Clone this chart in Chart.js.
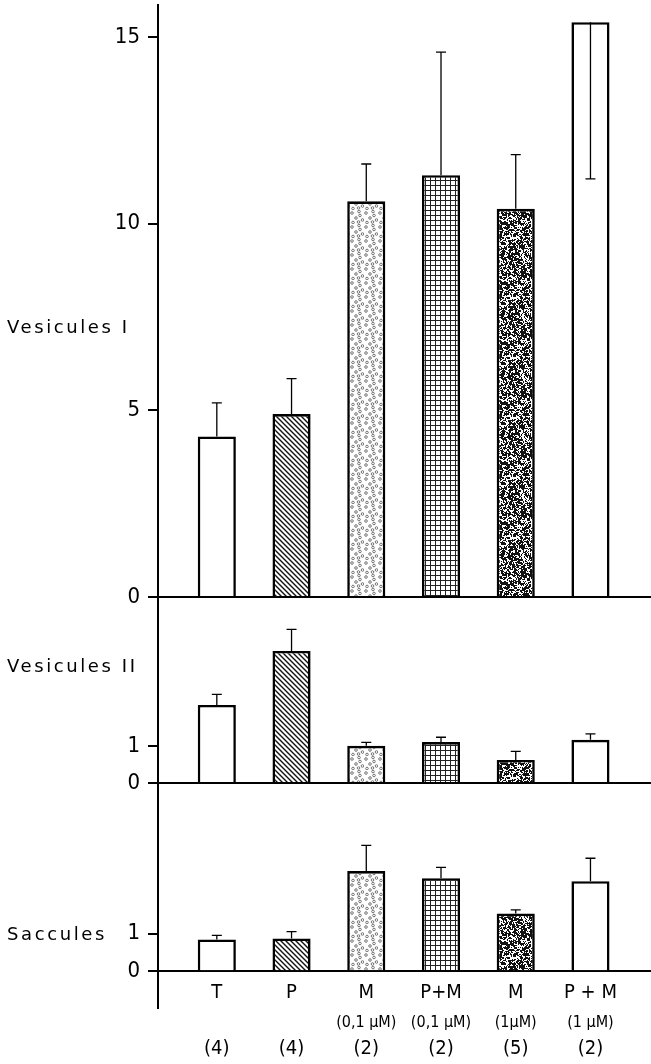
<!DOCTYPE html>
<html>
<head>
<meta charset="utf-8">
<script src="https://cdn.jsdelivr.net/npm/chart.js@4.4.1/dist/chart.umd.min.js"></script>
<style>
  html, body { margin: 0; padding: 0; background: #fff; }
  #cadre { position: relative; width: 651px; height: 1064px; }
</style>
</head>
<body>
<div id="cadre"><canvas id="golgi"></canvas></div>
<script>
// groupes traités (axe des x)
var groupes = ["T", "P", "M", "P+M", "M", "P + M"];
var concentrations = ["", "", "(0,1 µM)", "(0,1 µM)", "(1µM)", "(1 µM)"];
var effectifs = ["(4)", "(4)", "(2)", "(2)", "(5)", "(2)"];

// Vesicules I
var vesI = [4.3, 4.9, 10.6, 11.3, 10.4, 15.4];
var vesIErr = [5.2, 5.85, 11.6, 14.6, 11.85, 11.2];
// Vesicules II
var vesII = [2.1, 3.55, 1.0, 1.1, 0.62, 1.16];
var vesIIErr = [2.38, 4.13, 1.09, 1.23, 0.85, 1.32];
// Saccules
var sacc = [0.84, 0.87, 2.66, 2.47, 1.53, 2.39];
var saccErr = [0.95, 1.05, 3.34, 2.76, 1.63, 3.0];

var ticksVesI = [0, 5, 10, 15];
var ticksVesII = [0, 1];
var ticksSacc = [0, 1];

var policeChiffres = "'Liberation Sans Narrow', 'DejaVu Sans Condensed', 'Liberation Sans', sans-serif";
var policeTexte = "'DejaVu Sans', sans-serif";

var ctx = document.getElementById("golgi");

// motifs de remplissage des barres
function tuile(w, h, dessin) {
  var c = document.createElement('canvas');
  c.width = w; c.height = h;
  var g = c.getContext('2d');
  g.fillStyle = '#fff';
  g.fillRect(0, 0, w, h);
  dessin(g);
  return ctx.getContext('2d').createPattern(c, 'repeat');
}

var hachures = tuile(5, 5, function (g) {
  g.strokeStyle = '#111';
  g.lineWidth = 1.4;
  g.beginPath();
  g.moveTo(-1, -1); g.lineTo(6, 6);
  g.moveTo(-1, 4); g.lineTo(1, 6);
  g.moveTo(4, -1); g.lineTo(6, 1);
  g.stroke();
});

var cercles = tuile(14, 14, function (g) {
  g.strokeStyle = '#555';
  g.lineWidth = 0.8;
  [[2, 3], [9, 1.5], [6, 8], [12.5, 10], [3, 12.5], [10, 5.5], [8.5, 12]].forEach(function (p) {
    g.beginPath();
    g.arc(p[0], p[1], 1.3, 0, Math.PI * 2);
    g.stroke();
  });
});

var quadrillage = tuile(5, 5, function (g) {
  g.fillStyle = '#222';
  g.fillRect(0, 0, 5, 1);
  g.fillRect(0, 0, 1, 5);
});

var grain = tuile(60, 60, function (g) {
  var s = 12345;
  function alea() { s = (s * 1103515245 + 12345) % 2147483648; return s / 2147483648; }
  g.fillStyle = '#111';
  for (var y = 0; y < 60; y++) {
    for (var x = 0; x < 60; x++) {
      var r = alea();
      if (r < 0.38) g.fillRect(x, y, 1, 1);
      else if (r < 0.47) g.fillRect(x, y, 2, 2);
    }
  }
});

var fonds = ['#fff', hachures, cercles, quadrillage, grain, '#fff'];

function points(vals) {
  return vals.map(function (v, i) { return { x: i + 1, y: v }; });
}

// barres d'erreur (vers le haut ou vers le bas)
var barresErreur = {
  id: 'barresErreur',
  afterDatasetsDraw: function (chart) {
    var c = chart.ctx;
    c.save();
    c.strokeStyle = '#000';
    c.lineWidth = 1.3;
    chart.data.datasets.forEach(function (ds, i) {
      var meta = chart.getDatasetMeta(i);
      var echelle = chart.scales[ds.yAxisID];
      meta.data.forEach(function (barre, j) {
        var y0 = echelle.getPixelForValue(ds.data[j].y);
        var y1 = echelle.getPixelForValue(ds.erreurs[j]);
        c.beginPath();
        c.moveTo(barre.x, y0); c.lineTo(barre.x, y1);
        c.moveTo(barre.x - 5, y1); c.lineTo(barre.x + 5, y1);
        c.stroke();
      });
    });
    c.restore();
  }
};

// noms des panneaux, à gauche de l'axe
var nomsPanneaux = {
  id: 'nomsPanneaux',
  afterDraw: function (chart) {
    var c = chart.ctx;
    c.save();
    c.fillStyle = '#000';
    c.font = '18px ' + policeTexte;
    c.letterSpacing = '2.6px';
    c.textBaseline = 'middle';
    chart.data.datasets.forEach(function (ds) {
      var echelle = chart.scales[ds.yAxisID];
      c.fillText(ds.label, 7, echelle.getPixelForValue(ds.ancre));
    });
    c.restore();
  }
};

function axeY(min, max, ticks, poids, hauteur) {
  return {
    type: 'linear',
    position: 'left',
    stack: 'panneaux',
    stackWeight: hauteur,
    weight: poids,
    min: min,
    max: max,
    afterBuildTicks: function (s) { s.ticks = ticks.map(function (v) { return { value: v }; }); },
    afterFit: function (s) { s.width = 158; s.paddingTop = 0; s.paddingBottom = 0; },
    grid: {
      color: function (c) { return c.tick && c.tick.value === 0 ? '#000' : 'rgba(0,0,0,0)'; },
      tickColor: '#000',
      lineWidth: 2,
      tickLength: 10,
      tickWidth: 2
    },
    border: { display: true, color: '#000', width: 2 },
    ticks: { color: '#000', padding: 8, font: { family: policeChiffres, size: 22 } }
  };
}

function axeX(etiquettes, taille, marge, hauteurLigne) {
  return {
    type: 'linear',
    position: { y: 0 },
    offset: false,
    min: 0.213,
    max: 6.81,
    afterBuildTicks: function (s) { s.ticks = groupes.map(function (g, i) { return { value: i + 1 }; }); },
    afterFit: function (s) { s.paddingLeft = 0; s.paddingRight = 0; },
    grid: { display: false, drawTicks: false, offset: false },
    border: { display: false },
    ticks: {
      color: '#000',
      padding: marge,
      autoSkip: false,
      maxRotation: 0,
      font: { family: policeChiffres, size: taille, lineHeight: hauteurLigne },
      callback: function (v, i) { return etiquettes(i); }
    }
  };
}

new Chart(ctx, {
  type: 'bar',
  data: {
    datasets: [
      { label: 'Vesicules I', yAxisID: 'y3', data: points(vesI), erreurs: vesIErr, ancre: 7.2, backgroundColor: fonds },
      { label: 'Vesicules II', yAxisID: 'y2', data: points(vesII), erreurs: vesIIErr, ancre: 3.1, backgroundColor: fonds },
      { label: 'Saccules', yAxisID: 'y', data: points(sacc), erreurs: saccErr, ancre: 0.95, backgroundColor: fonds }
    ]
  },
  options: {
    responsive: true,
    maintainAspectRatio: false,
    animation: false,
    layout: { padding: { top: 5, right: 0, bottom: 56, left: 0 } },
    datasets: {
      bar: {
        grouped: false,
        barPercentage: 0.51,
        categoryPercentage: 1,
        borderColor: '#000',
        borderWidth: 2.6
      }
    },
    plugins: {
      legend: { display: false },
      tooltip: { enabled: false }
    },
    scales: {
      x: axeX(function (i) { return [groupes[i], '', effectifs[i]]; }, 20, 8, 1.4),
      x2: axeX(function (i) { return concentrations[i]; }, 16, 42, 1.2),
      y3: axeY(0, 15.86, ticksVesI, 3, 592),
      y2: axeY(0, 5, ticksVesII, 2, 186),
      y: axeY(-0.98, 5, ticksSacc, 1, 225)
    }
  },
  plugins: [barresErreur, nomsPanneaux]
});
</script>
</body>
</html>
